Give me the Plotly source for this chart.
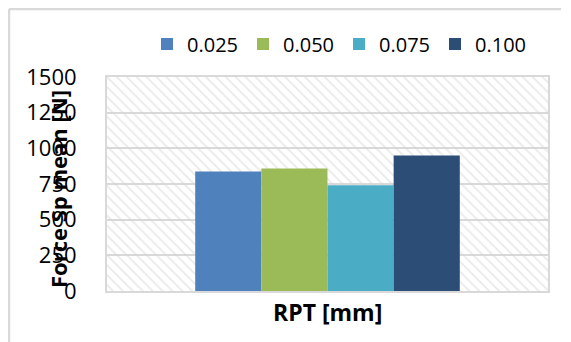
import plotly.graph_objects as go

series_names = ["0.025", "0.050", "0.075", "0.100"]
series_values = [837, 858, 742, 949]
colors = ["#4F81BD", "#9BBB59", "#4BACC6", "#2C4D75"]
y_ticks = [0, 250, 500, 750, 1000, 1250, 1500]
y_max = 1500
category = [0]

FONT = "Open Sans"
OFF = 8  # page body margin
W, H = 571 - OFF, 342 - OFF
# plot area in page pixels: x 107..548, y 77..291
L, T = 107 - OFF, 77 - OFF
R, B = W - (548 - OFF), H - (291 - OFF)
PW, PH = W - L - R, H - T - B

def px_x(x):  # page pixel -> paper
    return (x - OFF - L) / PW

def px_y(y):
    return (H - B - (y - OFF)) / PH

fig = go.Figure()

# hatched plot-area background
fig.add_trace(go.Bar(
    x=category, y=[y_max], offset=-0.5, width=1, showlegend=False, hoverinfo="skip",
    marker=dict(color="rgba(0,0,0,0)", line=dict(width=0),
                pattern=dict(shape="\\", fgcolor="#d4d4d4", bgcolor="rgba(0,0,0,0)",
                             size=7, solidity=0.25, fillmode="overlay")),
))

for name, val, col in zip(series_names, series_values, colors):
    fig.add_trace(go.Bar(x=category, y=[val], name=name, marker=dict(color=col, line=dict(width=0))))

fig.update_layout(
    width=W, height=H,
    margin=dict(l=L, r=R, t=T, b=B, autoexpand=False),
    paper_bgcolor="white", plot_bgcolor="white",
    barmode="group", bargap=0.4, bargroupgap=0,
    font=dict(family=FONT, size=21, color="black"),
    legend=dict(orientation="h", x=px_x(147), xanchor="left", y=px_y(44), yanchor="middle",
                font=dict(size=20), traceorder="normal", itemwidth=30),
    xaxis=dict(range=[-0.5, 0.5], showticklabels=False, ticks="", showgrid=False, automargin=False,
               showline=True, linecolor="#d9d9d9", linewidth=2, mirror=True, zeroline=False),
    yaxis=dict(range=[0, y_max], tickvals=y_ticks, showgrid=True, gridcolor="#d9d9d9", gridwidth=2,
               showline=True, linecolor="#d9d9d9", linewidth=2, mirror=True, zeroline=False,
               ticks="outside", ticklen=24, tickcolor="rgba(0,0,0,0)", automargin=False,
               tickfont=dict(size=22)),
    showlegend=True,
)

fig.add_annotation(text="<b>Force Sp mean [N]</b>", textangle=-90, xref="paper", yref="paper",
                   x=px_x(58), y=px_y(189), xanchor="center", yanchor="middle", showarrow=False,
                   font=dict(size=22, family=FONT, color="black"))
fig.add_annotation(text="<b>RPT [mm]</b>", xref="paper", yref="paper",
                   x=px_x(327), y=px_y(312), xanchor="center", yanchor="middle", showarrow=False,
                   font=dict(size=23, family=FONT, color="black"))

# outer chart border (top and left)
fig.add_shape(type="line", xref="paper", yref="paper",
              x0=px_x(9), x1=px_x(561), y0=px_y(9), y1=px_y(9),
              line=dict(color="#d9d9d9", width=2.5))
fig.add_shape(type="line", xref="paper", yref="paper",
              x0=px_x(9), x1=px_x(9), y0=px_y(9), y1=px_y(345),
              line=dict(color="#d9d9d9", width=2.5))

fig.write_html("out.html")
